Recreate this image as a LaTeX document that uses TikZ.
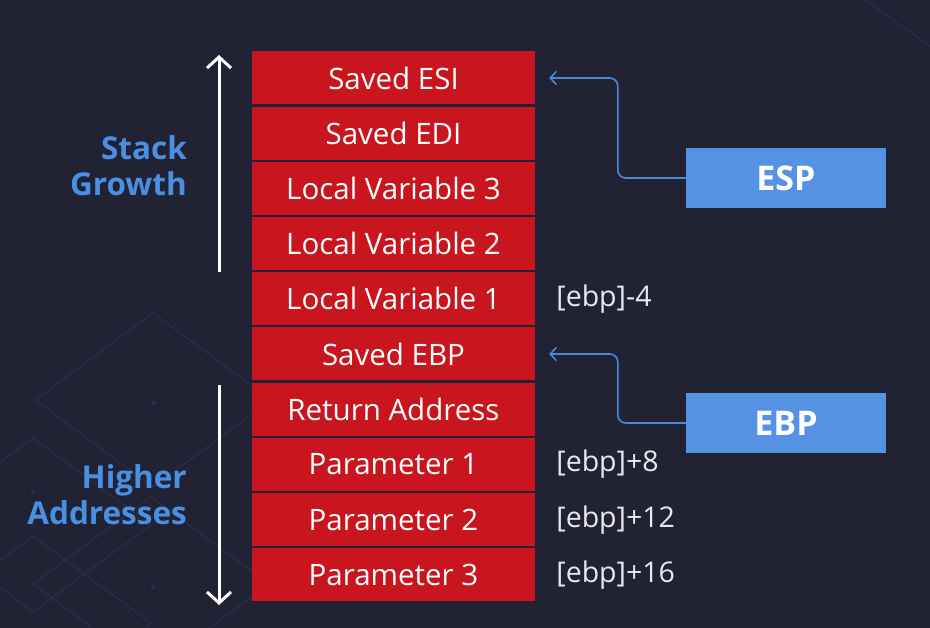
\documentclass[tikz,border=0pt]{standalone}
\usepackage{fontspec}
\setmainfont{Open Sans}
\usetikzlibrary{arrows.meta,positioning}
\definecolor{bgnavy}{HTML}{212234}
\definecolor{stackred}{HTML}{C9161E}
\definecolor{regblue}{HTML}{5592E3}
\definecolor{lineblue}{HTML}{4A88D8}
\definecolor{labblue}{HTML}{4A90E2}
\definecolor{deco}{HTML}{2A2F4C}

\begin{document}
\begin{tikzpicture}[x=1pt,y=-1pt,
    slot/.style={fill=stackred,minimum width=283pt,minimum height=53pt,inner sep=0pt,
        text=white,font=\fontsize{29.5}{29.5}\selectfont},
    reg/.style={fill=regblue,minimum width=200pt,minimum height=60pt,inner sep=0pt,
        text=white,font=\bfseries\fontsize{34}{34}\selectfont},
    off/.style={anchor=west,inner sep=0pt,text=white!90!bgnavy,font=\fontsize{28.5}{28.5}\selectfont},
    side/.style={align=right,anchor=east,inner sep=0pt,text=labblue,font=\bfseries\fontsize{31.5}{36}\selectfont},
    ptr/.style={lineblue,line width=1.6pt,rounded corners=8pt,-{Straight Barb[length=6pt,width=13pt]}},
    dirarrow/.style={white,line width=3pt,-{Straight Barb[length=11pt,width=24pt]}}]
    \useasboundingbox (0,0) rectangle (930,628);
    \fill[bgnavy] (0,0) rectangle (930,628);
    % faint background pattern
    \begin{scope}
    \clip (0,0) rectangle (930,628);
    \draw[deco,line width=1pt] (35,400)--(153,313)--(271,400)--(153,487)--cycle;
    \draw[deco,line width=1pt] (33,438)--(151,525)--(33,612)--(-85,525)--cycle;
    \draw[deco,line width=1pt] (33,536)--(151,623)--(33,710)--(-85,623)--cycle;
    \draw[deco,line width=1pt] (33,584)--(151,497)--(269,584)--(151,671)--cycle;
    \draw[deco,line width=1pt] (865,0)--(930,46);
    \fill[deco] (154,403) circle (2.2pt) (33,492) circle (2.2pt) (153,587) circle (2.2pt);
    \end{scope}
    % stack frame
    \foreach \txt [count=\i from 0] in {Saved ESI,Saved EDI,Local Variable 3,Local Variable 2,
        Local Variable 1,Saved EBP,Return Address,Parameter 1,Parameter 2,Parameter 3}
        \node[slot] (r\i) at (393.5,{78+55.2*\i}) {\txt};
    % offsets from ebp
    \node[off,right=21pt of r4] (o4) {[ebp]-4};
    \node[off,right=21pt of r7] (o7) {[ebp]+8};
    \node[off,right=21pt of r8] (o8) {[ebp]+12};
    \node[off,right=21pt of r9] (o9) {[ebp]+16};
    % registers
    \node[reg] (esp) at (786,178) {ESP};
    \node[reg] (ebp) at (786,423) {EBP};
    \draw[ptr] (esp.west) -- ++(-68,0) |- ([xshift=14pt]r0.east);
    \draw[ptr] (ebp.west) -- ++(-68,0) |- ([xshift=14pt]r5.east);
    % direction arrows
    \coordinate (gbot) at (219,272);
    \coordinate (gtop) at (219,55);
    \coordinate (hbot) at (219,605);
    \coordinate (htop) at (219,385);
    \draw[dirarrow] (gbot) -- (gtop);
    \draw[dirarrow] (htop) -- (hbot);
    \node[side] (sg) at (187,166) {Stack\\Growth};
    \node[side] (ha) at (187,495) {Higher\\Addresses};
\end{tikzpicture}
\end{document}
